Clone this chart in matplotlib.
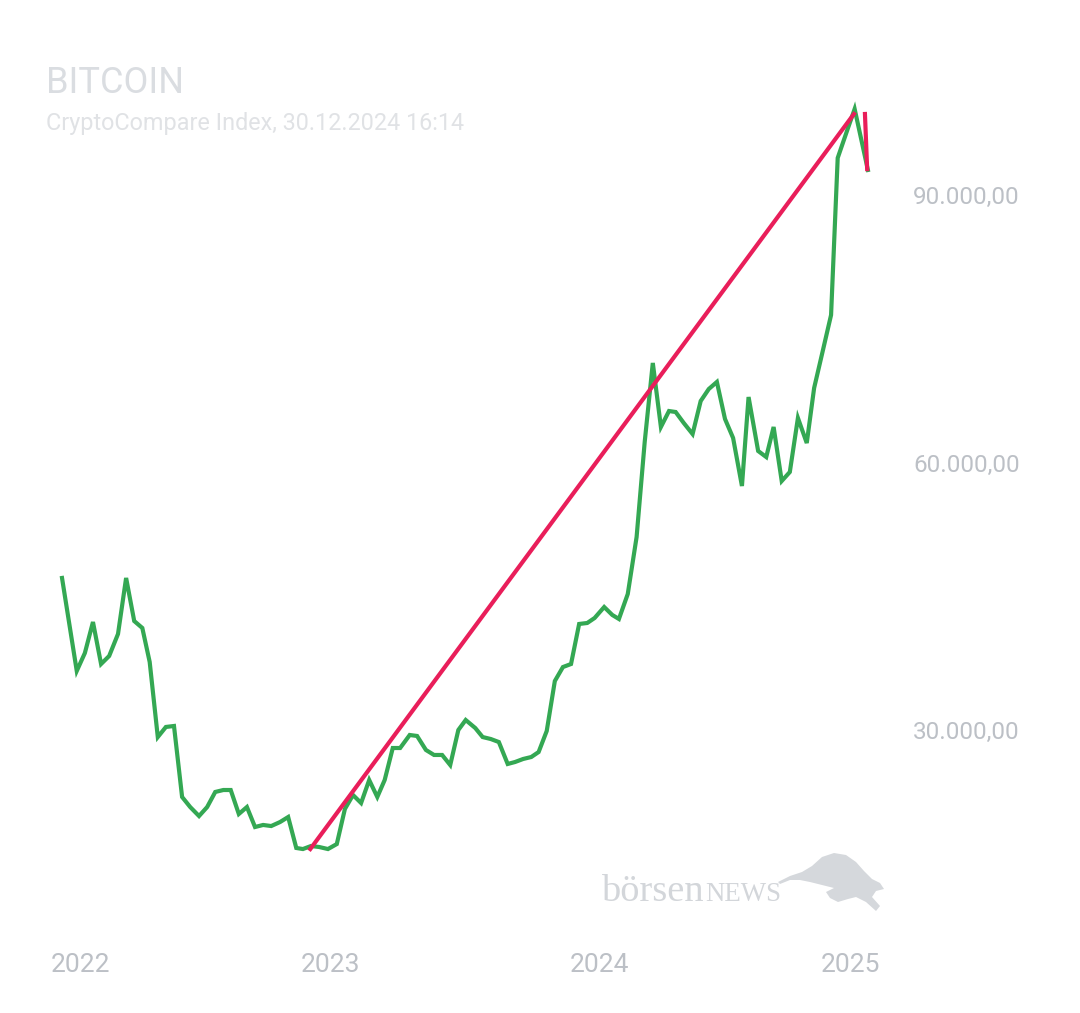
import pandas as pd
import matplotlib.pyplot as plt
import matplotlib.transforms as mtransforms
from matplotlib.patches import Polygon

plt.rcParams['font.family'] = ['Roboto', 'DejaVu Sans']

start = pd.Timestamp('2022-01-01')

# Tage seit 01.01.2022 und Kurs in USD
days = [0, 20, 31, 42, 53, 64, 76, 87, 98, 109,
        119, 130, 141, 152, 163, 174, 186, 197, 208, 219,
        229, 240, 251, 262, 273, 284, 296, 307, 318, 327,
        338, 349, 361, 373, 384, 395, 406, 417, 428, 438,
        449, 459, 472, 482, 494, 505, 516, 527, 538, 548,
        561, 571, 582, 593, 605, 615, 626, 637, 647, 658,
        669, 680, 691, 702, 713, 723, 736, 747, 756, 768,
        780, 791, 802, 813, 824, 833, 844, 856, 867, 878,
        889, 900, 911, 923, 932, 945, 956, 966, 977, 988,
        999, 1011, 1021, 1033, 1044, 1053, 1067, 1076, 1094]
prices = [47050, 36620, 38630, 42110, 37400, 38300, 40770, 47050, 42220, 41440,
          37630, 29210, 30340, 30450, 22490, 21360, 20350, 21360, 23050, 23270,
          23270, 20580, 21360, 19120, 19350, 19230, 19680, 20240, 16770, 16650,
          16990, 16880, 16650, 17210, 21140, 22710, 21810, 24390, 22490, 24390,
          27980, 27980, 29440, 29330, 27760, 27200, 27200, 26070, 30000, 31120,
          30220, 29210, 28990, 28650, 26190, 26410, 26750, 26970, 27530, 29890,
          35490, 37060, 37400, 41890, 42000, 42560, 43790, 42900, 42450, 45250,
          51640, 62300, 71160, 63980, 65770, 65660, 64430, 63190, 66890, 68240,
          69030, 64880, 62750, 57360, 67340, 61290, 60610, 63980, 57920, 58930,
          64990, 62180, 68350, 72610, 76540, 94150, 97510, 99640, 92800]

# Trendlinien
trend1_days = [337, 1075]
trend1_prices = [16650, 99080]
trend2_days = [1090, 1093]
trend2_prices = [99080, 92900]

y_ticks = [30000, 60000, 90000]
year_ticks = [2022, 2023, 2024, 2025]


def to_dates(d):
    return start + pd.to_timedelta(d, unit='D')


def de_format(v):
    s = '{:,.2f}'.format(v)
    return s.replace(',', 'X').replace('.', ',').replace('X', '.')


W, H = 1080, 1013
fig = plt.figure(figsize=(W / 100, H / 100), dpi=100)
ax = fig.add_axes([40 / W, 1 - 940 / H, 850 / W, 850 / H])

green = '#34a853'
red = '#e91e5a'
tick_color = '#bcc0c6'

ax.plot(to_dates(days), prices, color=green, lw=3.0, solid_joinstyle='miter', zorder=2)
ax.plot(to_dates(trend1_days), trend1_prices, color=red, lw=3.0, zorder=3)
ax.plot(to_dates(trend2_days), trend2_prices, color=red, lw=3.0, zorder=3)

ax.set_xlim(to_dates(-29.9), to_dates(1124))
ax.set_ylim(6450, 101770)

for s in ax.spines.values():
    s.set_visible(False)

ax.yaxis.tick_right()
ax.set_yticks(y_ticks)
ax.set_yticklabels([de_format(v) for v in y_ticks])
ax.tick_params(axis='y', length=0, pad=16.5, labelsize=17.5, labelcolor=tick_color)

ax.set_xticks([pd.Timestamp(str(y) + '-01-01') for y in year_ticks])
ax.set_xticklabels([str(y) for y in year_ticks])
ax.tick_params(axis='x', length=0, pad=9, labelsize=19, labelcolor=tick_color)
# Randbeschriftungen nach innen schieben
labels = ax.get_xticklabels()
labels[0].set_transform(labels[0].get_transform() +
                        mtransforms.ScaledTranslation(0.18, 0, fig.dpi_scale_trans))
labels[-1].set_transform(labels[-1].get_transform() +
                         mtransforms.ScaledTranslation(-0.19, 0, fig.dpi_scale_trans))

# Titel
fig.text(46 / W, 1 - 93 / H, 'BITCOIN', fontsize=26, color='#dadde1', va='baseline')
fig.text(46 / W, 1 - 130 / H, 'CryptoCompare Index, 30.12.2024 16:14',
         fontsize=16.8, color='#e0e2e5', va='baseline')

# Wasserzeichen
wm = '#d3d6da'
fig.text(602 / W, 1 - 901 / H, 'börsen', fontsize=27.6, color=wm, va='baseline',
         family=['Liberation Serif', 'DejaVu Serif'])
fig.text(705 / W, 1 - 901 / H, 'NEWS', fontsize=19.4, color=wm, va='baseline',
         family=['Liberation Serif', 'DejaVu Serif'])
bull = [(778, 882), (790, 876), (802, 872), (812, 866), (822, 857), (834, 853),
        (846, 855), (856, 862), (864, 871), (872, 879), (880, 883), (884, 889),
        (876, 891), (872, 897), (880, 906), (876, 911), (866, 902), (856, 897),
        (848, 899), (838, 902), (830, 898), (826, 892), (834, 888), (822, 885),
        (810, 882), (800, 880), (790, 880), (780, 884)]
poly = Polygon([(x / 100, (H - y) / 100) for x, y in bull], closed=True,
               facecolor='#d5d8dc', edgecolor='none', transform=fig.dpi_scale_trans)
fig.patches.append(poly)

fig.savefig('out.png', dpi=100, facecolor='white')
